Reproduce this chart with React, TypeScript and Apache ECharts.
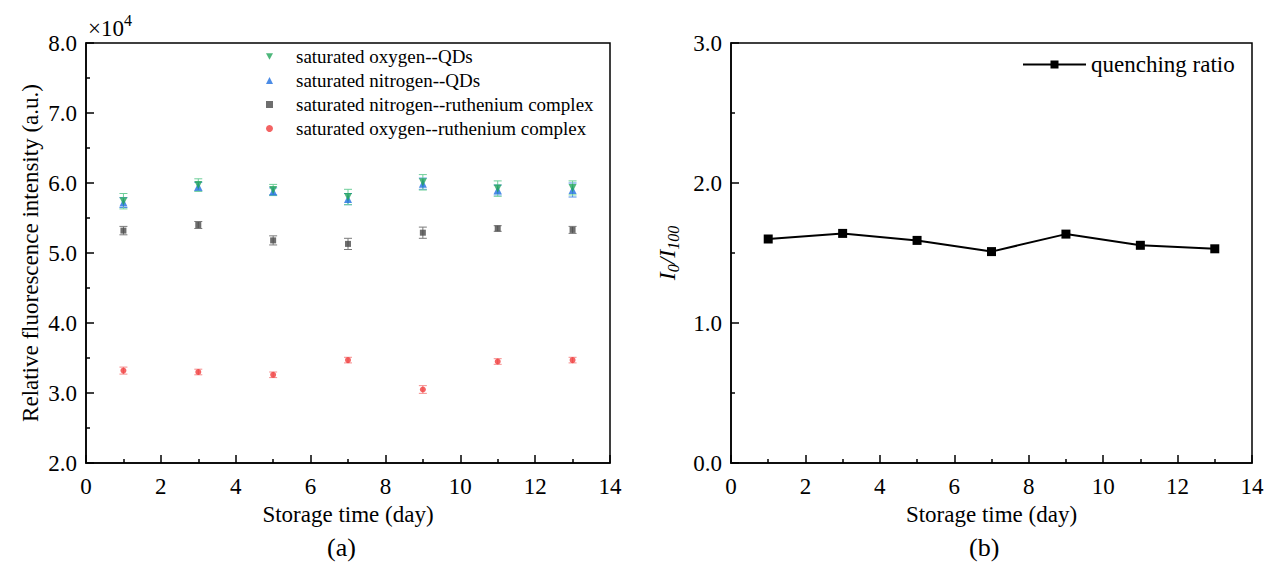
import React, { useEffect, useRef } from "react";
import * as echarts from "echarts";

const days = [1, 3, 5, 7, 9, 11, 13];
const seriesNames = [
  "saturated oxygen--QDs",
  "saturated nitrogen--QDs",
  "saturated nitrogen--ruthenium complex",
  "saturated oxygen--ruthenium complex",
];
const oxygenQDs = [5.74, 5.97, 5.9, 5.8, 6.01, 5.92, 5.93];
const oxygenQDsErr = [0.11, 0.09, 0.08, 0.11, 0.11, 0.11, 0.1];
const nitrogenQDs = [5.72, 5.95, 5.88, 5.77, 5.99, 5.9, 5.9];
const nitrogenQDsErr = [0.07, 0.06, 0.05, 0.08, 0.08, 0.07, 0.1];
const nitrogenRu = [5.32, 5.4, 5.18, 5.13, 5.29, 5.35, 5.33];
const nitrogenRuErr = [0.06, 0.05, 0.065, 0.08, 0.08, 0.04, 0.05];
const oxygenRu = [3.32, 3.3, 3.26, 3.47, 3.05, 3.45, 3.47];
const oxygenRuErr = [0.05, 0.04, 0.04, 0.04, 0.055, 0.04, 0.04];
const ratioName = "quenching ratio";
const quenchingRatio = [1.6, 1.64, 1.59, 1.51, 1.635, 1.555, 1.53];
const leftYTicks = { min: 2, max: 8, interval: 1 };
const rightYTicks = { min: 0, max: 3, interval: 1 };
const xTicks = { min: 0, max: 14, interval: 2 };

const FONT = "'Liberation Serif', 'Times New Roman', serif";
const AX_FS = 23;
const DOWN_TRIANGLE = "path://M0,0 L10,0 L5,9 Z";

function errorSeries(vals: number[], errs: number[], color: string) {
  return {
    type: "custom",
    xAxisIndex: 0,
    yAxisIndex: 0,
    z: 1,
    silent: true,
    encode: { x: 0, y: [1, 2] },
    data: days.map((d, i) => [d, vals[i] - errs[i], vals[i] + errs[i]]),
    renderItem: (_params: any, api: any) => {
      const x = api.value(0);
      const lo = api.coord([x, api.value(1)]);
      const hi = api.coord([x, api.value(2)]);
      const hw = 4;
      const st = { stroke: color, lineWidth: 1 };
      return {
        type: "group",
        children: [
          { type: "line", shape: { x1: lo[0], y1: lo[1], x2: hi[0], y2: hi[1] }, style: st },
          { type: "line", shape: { x1: lo[0] - hw, y1: lo[1], x2: lo[0] + hw, y2: lo[1] }, style: st },
          { type: "line", shape: { x1: hi[0] - hw, y1: hi[1], x2: hi[0] + hw, y2: hi[1] }, style: st },
        ],
      };
    },
  };
}

function xAxisDef(gridIndex: number) {
  return {
    type: "value",
    gridIndex,
    ...xTicks,
    name: "Storage time (day)",
    nameLocation: "middle",
    nameGap: 40,
    nameTextStyle: { fontFamily: FONT, fontSize: AX_FS, color: "#000" },
    axisLine: { show: true, onZero: false, lineStyle: { color: "#000", width: 1.5 } },
    axisTick: { show: true, inside: true, length: 8, lineStyle: { color: "#000", width: 1.5 } },
    minorTick: { show: true, splitNumber: 2, length: 4, lineStyle: { color: "#000", width: 1.5 } },
    axisLabel: { fontFamily: FONT, fontSize: AX_FS, color: "#000", margin: 12 },
    splitLine: { show: false },
  };
}

function yAxisDef(gridIndex: number, ticks: any, name: any, nameGap: number, rich?: any) {
  return {
    type: "value",
    gridIndex,
    ...ticks,
    name,
    nameLocation: "middle",
    nameGap,
    nameTextStyle: { fontFamily: FONT, fontSize: AX_FS, color: "#000", rich },
    axisLine: { show: true, onZero: false, lineStyle: { color: "#000", width: 1.5 } },
    axisTick: { show: true, inside: true, length: 8, lineStyle: { color: "#000", width: 1.5 } },
    minorTick: { show: true, splitNumber: 2, length: 4, lineStyle: { color: "#000", width: 1.5 } },
    axisLabel: {
      fontFamily: FONT,
      fontSize: AX_FS,
      color: "#000",
      margin: 9,
      formatter: (v: number) => v.toFixed(1),
    },
    splitLine: { show: false },
  };
}

export default function App() {
  const ref = useRef<HTMLDivElement>(null);
  useEffect(() => {
    if (!ref.current) return;
    const chart = echarts.init(ref.current, null, { renderer: "svg" });
    const option: any = {
      animation: false,
      backgroundColor: "#fff",
      grid: [
        { left: 86, right: 1268 - 610, top: 43, bottom: 568 - 463, show: true, borderColor: "#000", borderWidth: 1.5 },
        { left: 731, right: 1268 - 1252, top: 43, bottom: 568 - 463, show: true, borderColor: "#000", borderWidth: 1.5 },
      ],
      xAxis: [xAxisDef(0), xAxisDef(1)],
      yAxis: [
        yAxisDef(0, leftYTicks, "Relative fluorescence intensity (a.u.)", 44),
        yAxisDef(1, rightYTicks, "{i|I}{s|0}{i|/I}{s|100}", 50, {
          i: { fontFamily: FONT, fontSize: 24, fontStyle: "italic", color: "#000", lineHeight: 28, verticalAlign: "middle" },
          s: { fontFamily: FONT, fontSize: 16, fontStyle: "italic", color: "#000", lineHeight: 16, verticalAlign: "bottom" },
        }),
      ],
      legend: [
        {
          data: seriesNames.map((n, i) => (i === 0 ? { name: n, icon: DOWN_TRIANGLE } : { name: n })),
          orient: "vertical",
          left: 266,
          top: 47,
          padding: 0,
          itemWidth: 7,
          itemHeight: 7,
          itemGap: 5,
          textStyle: { fontFamily: FONT, fontSize: 19, color: "#000", padding: [0, 0, 0, 18] },
        },
        {
          data: [ratioName],
          left: 1022,
          top: 53,
          padding: 0,
          itemWidth: 63,
          itemHeight: 10,
          textStyle: { fontFamily: FONT, fontSize: 23, color: "#000" },
        },
      ],
      graphic: [
        {
          type: "text",
          left: 88,
          top: 12,
          style: {
            text: "{a|×10}{b|4}",
            rich: {
              a: { fontFamily: FONT, fontSize: 23, fill: "#000", verticalAlign: "bottom", lineHeight: 28 },
              b: { fontFamily: FONT, fontSize: 16, fill: "#000", verticalAlign: "top", lineHeight: 16 },
            },
          },
        },
        { type: "text", left: 327, top: 534, style: { text: "(a)", fontFamily: FONT, fontSize: 26, fill: "#000" } },
        { type: "text", left: 969, top: 534, style: { text: "(b)", fontFamily: FONT, fontSize: 26, fill: "#000" } },
      ],
      series: [
        errorSeries(nitrogenRu, nitrogenRuErr, "#7a7a7a"),
        errorSeries(oxygenRu, oxygenRuErr, "#f58c8c"),
        errorSeries(nitrogenQDs, nitrogenQDsErr, "#4f8fe8"),
        errorSeries(oxygenQDs, oxygenQDsErr, "#6fcf9a"),
        {
          name: seriesNames[3],
          type: "scatter",
          xAxisIndex: 0,
          yAxisIndex: 0,
          symbol: "circle",
          symbolSize: 6,
          itemStyle: { color: "#f03c3c" },
          data: days.map((d, i) => [d, oxygenRu[i]]),
          z: 3,
        },
        {
          name: seriesNames[2],
          type: "scatter",
          xAxisIndex: 0,
          yAxisIndex: 0,
          symbol: "rect",
          symbolSize: 6,
          itemStyle: { color: "#4a4a4a" },
          data: days.map((d, i) => [d, nitrogenRu[i]]),
          z: 3,
        },
        {
          name: seriesNames[1],
          type: "scatter",
          xAxisIndex: 0,
          yAxisIndex: 0,
          symbol: "triangle",
          symbolSize: 8,
          itemStyle: { color: "#1f6fe0" },
          data: days.map((d, i) => [d, nitrogenQDs[i]]),
          z: 3,
        },
        {
          name: seriesNames[0],
          type: "scatter",
          xAxisIndex: 0,
          yAxisIndex: 0,
          symbol: "triangle",
          symbolRotate: 180,
          symbolSize: 8,
          itemStyle: { color: "#22a55a" },
          data: days.map((d, i) => [d, oxygenQDs[i]]),
          z: 4,
        },
        {
          name: ratioName,
          type: "line",
          xAxisIndex: 1,
          yAxisIndex: 1,
          symbol: "rect",
          symbolSize: 9,
          showSymbol: true,
          itemStyle: { color: "#000" },
          lineStyle: { color: "#000", width: 2 },
          data: days.map((d, i) => [d, quenchingRatio[i]]),
        },
      ],
    };
    chart.setOption(option);
    return () => chart.dispose();
  }, []);
  return (
    <div
      ref={ref}
      style={{ position: "fixed", left: 0, top: 0, width: 1268, height: 568, background: "#fff" }}
    />
  );
}
